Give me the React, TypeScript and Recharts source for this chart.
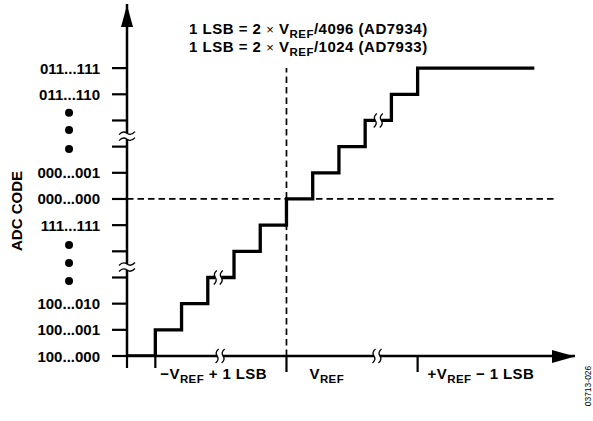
import { ComposedChart, Line, XAxis, YAxis, ReferenceLine, ReferenceDot } from "recharts";

// ADC transfer function (twos complement output)
const codeTicks = [0, 1, 2, 3, 4, 5, 6, 7, 8, 9, 10, 11];
const codeLabels = [
  "100...000", "100...001", "100...010", "", "", "111...111",
  "000...000", "000...001", "", "", "011...110", "011...111",
];

const inputSteps = [-1.08, 0, 1, 2, 3, 4, 5, 6, 7, 8, 9, 10, 14.45];
const outputCodes = [0, 1, 2, 3, 4, 5, 6, 7, 8, 9, 10, 11, 11];

const inputTicks = [-1.08, 0, 5, 10];
const inputTickLabels: [string, string, string][] = [
  ["", "", ""],
  ["\u2212V", "REF", " + 1 LSB"],
  ["V", "REF", ""],
  ["+V", "REF", " \u2212 1 LSB"],
];

const X_MIN = -1.08;
const X_MAX = 16;
const Y_MAX = 13.45;
const MID_CODE = 6;
const VREF_STEP = 5;
const DASH_END = 15.3;

const axisBreakCodes = [3.4, 8.4];
const axisBreakInputs = [2.47, 8.45];
const stairBreaks = [{ x: 2.4, y: 3 }, { x: 8.5, y: 9 }];
const ellipsisCodes = [2.87, 3.55, 4.24, 7.91, 8.64, 9.29];
const ELLIPSIS_X = -3.29;

const data = inputSteps.map((x, i) => ({ x, code: outputCodes[i] }));

const FONT = "'Liberation Sans', Arial, Helvetica, sans-serif";
const tickLen = [12, 12, 16, 16];
const labelGap = [0, 5, 23, 10];

function CodeTick(props: any) {
  const { x, y, payload } = props;
  const label = codeLabels[codeTicks.indexOf(payload.value)];
  return (
    <g>
      <line x1={x - 15} x2={x} y1={y} y2={y} stroke="#000" strokeWidth={2.2} />
      {label && (
        <text x={x - 27} y={y + 5.5} textAnchor="end" fontFamily={FONT} fontWeight="bold" fontSize={15} fill="#000">
          {label}
        </text>
      )}
    </g>
  );
}

function InputTick(props: any) {
  const { x, y, payload } = props;
  const i = inputTicks.indexOf(payload.value);
  const [a, sub, b] = inputTickLabels[i];
  return (
    <g>
      <line x1={x} x2={x} y1={y} y2={y + tickLen[i]} stroke="#000" strokeWidth={2.2} />
      {a && (
        <text x={x + labelGap[i]} y={y + 23} fontFamily={FONT} fontWeight="bold" fontSize={15} letterSpacing={0.4} fill="#000">
          <tspan>{a}</tspan>
          <tspan dy={4} fontSize={11.5}>{sub}</tspan>
          <tspan dy={-4}>{b}</tspan>
        </text>
      )}
    </g>
  );
}

const wave = (x: number, y: number) =>
  `M${x + 1.5},${y - 7} Q${x - 2.5},${y - 3.5} ${x},${y} Q${x + 2.5},${y + 3.5} ${x - 1.5},${y + 7}`;
const tilde = (x: number, y: number) =>
  `M${x - 8},${y + 1.5} Q${x - 4},${y - 3} ${x},${y} Q${x + 4},${y + 3} ${x + 8},${y - 1.5}`;

const HBreak = (p: any) => (
  <g>
    <rect x={p.cx - 3} y={p.cy - 2.5} width={6} height={5} fill="#fff" />
    <path d={wave(p.cx - 3, p.cy)} fill="none" stroke="#000" strokeWidth={1.3} />
    <path d={wave(p.cx + 3, p.cy)} fill="none" stroke="#000" strokeWidth={1.3} />
  </g>
);

const VBreak = (p: any) => (
  <g>
    <rect x={p.cx - 2.5} y={p.cy - 3} width={5} height={6} fill="#fff" />
    <path d={tilde(p.cx, p.cy - 3)} fill="none" stroke="#000" strokeWidth={1.3} />
    <path d={tilde(p.cx, p.cy + 3)} fill="none" stroke="#000" strokeWidth={1.3} />
  </g>
);

const UpArrow = (p: any) => (
  <polygon points={`${p.cx},${p.cy + 1} ${p.cx - 6},${p.cy + 23} ${p.cx + 6},${p.cy + 23}`} fill="#000" />
);
const RightArrow = (p: any) => (
  <polygon points={`${p.cx},${p.cy + 0.5} ${p.cx - 23},${p.cy - 6} ${p.cx - 23},${p.cy + 7}`} fill="#000" />
);

export default function App() {
  return (
    <div style={{ position: "absolute", left: 0, top: 0, width: 593, height: 421, background: "#fff" }}>
      <ComposedChart width={593} height={421} data={data} margin={{ top: 4, right: 18, left: 0, bottom: 0 }}>
        <XAxis
          dataKey="x"
          type="number"
          domain={[X_MIN, X_MAX]}
          allowDataOverflow
          ticks={inputTicks}
          interval={0}
          height={65}
          tickSize={0}
          tickMargin={0}
          tickLine={false}
          axisLine={{ stroke: "#000", strokeWidth: 2.5 }}
          tick={<InputTick />}
        />
        <YAxis
          type="number"
          domain={[0, Y_MAX]}
          allowDataOverflow
          ticks={codeTicks}
          interval={0}
          width={127}
          tickSize={0}
          tickMargin={0}
          tickLine={false}
          axisLine={{ stroke: "#000", strokeWidth: 2.5 }}
          tick={<CodeTick />}
        />
        <ReferenceLine
          segment={[{ x: VREF_STEP, y: 0 }, { x: VREF_STEP, y: 11 }]}
          stroke="#000"
          strokeWidth={1.7}
          strokeDasharray="6.5 4"
          ifOverflow="visible"
        />
        <ReferenceLine
          segment={[{ x: X_MIN, y: MID_CODE }, { x: DASH_END, y: MID_CODE }]}
          stroke="#000"
          strokeWidth={1.7}
          strokeDasharray="6.5 4"
          ifOverflow="visible"
        />
        <Line
          type="stepAfter"
          dataKey="code"
          stroke="#000"
          strokeWidth={3.3}
          dot={false}
          activeDot={false}
          isAnimationActive={false}
        />
        {axisBreakCodes.map((c) => (
          <ReferenceDot key={"vb" + c} x={X_MIN} y={c} ifOverflow="visible" shape={VBreak} />
        ))}
        {axisBreakInputs.map((v) => (
          <ReferenceDot key={"hb" + v} x={v} y={0} ifOverflow="visible" shape={HBreak} />
        ))}
        {stairBreaks.map((s) => (
          <ReferenceDot key={"sb" + s.x} x={s.x} y={s.y} ifOverflow="visible" shape={HBreak} />
        ))}
        {ellipsisCodes.map((c) => (
          <ReferenceDot key={"e" + c} x={ELLIPSIS_X} y={c} r={4} fill="#000" stroke="none" ifOverflow="visible" />
        ))}
        <ReferenceDot x={X_MIN} y={Y_MAX} ifOverflow="visible" shape={UpArrow} />
        <ReferenceDot x={X_MAX} y={0} ifOverflow="visible" shape={RightArrow} />
        <text fontFamily={FONT} fontWeight="bold" fontSize={15} letterSpacing={0.5} fill="#000">
          <tspan x={189} y={34}>1 LSB = 2 </tspan>
          <tspan fontWeight="normal" fontSize={13}>×</tspan>
          <tspan> V</tspan>
          <tspan dy={4} fontSize={11.5}>REF</tspan>
          <tspan dy={-4}>/4096 (AD7934)</tspan>
        </text>
        <text fontFamily={FONT} fontWeight="bold" fontSize={15} letterSpacing={0.5} fill="#000">
          <tspan x={189} y={52}>1 LSB = 2 </tspan>
          <tspan fontWeight="normal" fontSize={13}>×</tspan>
          <tspan> V</tspan>
          <tspan dy={4} fontSize={11.5}>REF</tspan>
          <tspan dy={-4}>/1024 (AD7933)</tspan>
        </text>
        <text
          x={22}
          y={211}
          transform="rotate(-90 22 211)"
          textAnchor="middle"
          fontFamily={FONT}
          fontWeight="bold"
          fontSize={15}
          fill="#000"
        >
          ADC CODE
        </text>
        <text
          x={591}
          y={386}
          transform="rotate(-90 591 386)"
          textAnchor="middle"
          fontFamily={FONT}
          fontSize={8.5}
          fill="#000"
        >
          03713-026
        </text>
      </ComposedChart>
    </div>
  );
}
